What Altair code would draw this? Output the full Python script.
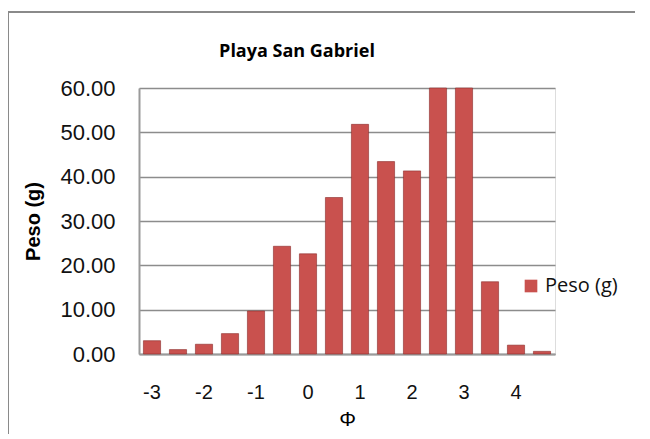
import altair as alt
import pandas as pd

phi = [-3, -2.5, -2, -1.5, -1, -0.5, 0, 0.5, 1, 1.5, 2, 2.5, 3, 3.5, 4, 4.5]
peso = [3.0, 1.0, 2.2, 4.6, 9.7, 24.3, 22.6, 35.3, 51.8, 43.4, 41.3, 60.0, 60.0, 16.3, 2.0, 0.6]
y_ticks = [0, 10, 20, 30, 40, 50, 60]
chart_title = "Playa San Gabriel"

df = pd.DataFrame({"phi": phi, "peso": peso, "serie": ["Peso (g)"] * len(phi)})
title_df = pd.DataFrame({"t": [chart_title]})

FONT = "Open Sans"

bars = alt.Chart(df).mark_bar(stroke="#8B2E2C", strokeWidth=0.6).encode(
    x=alt.X(
        "phi:O",
        sort=phi,
        scale=alt.Scale(paddingInner=0.34, paddingOuter=0.17),
        axis=alt.Axis(
            title="Φ",
            labelExpr="datum.value % 1 == 0 ? datum.label : ''",
            labelAngle=0,
            ticks=False,
            domain=True,
            domainColor="#9a9a9a",
            domainWidth=2,
            labelPadding=28,
            labelFontSize=20,
            labelColor="#111111",
            titleFontSize=21,
            titleFontWeight="normal",
            titlePadding=6,
            titleColor="#000000",
        ),
    ),
    y=alt.Y(
        "peso:Q",
        scale=alt.Scale(domain=[0, 60], nice=False),
        axis=alt.Axis(
            title="Peso (g)",
            values=y_ticks,
            format=".2f",
            ticks=False,
            domainColor="#9a9a9a",
            domainWidth=2,
            gridColor="#8c8c8c",
            gridWidth=1.6,
            labelPadding=24,
            labelFontSize=22,
            labelColor="#111111",
            titleFontSize=20,
            titleFontWeight="bold",
            titlePadding=16,
            titleColor="#000000",
        ),
    ),
    color=alt.Color(
        "serie:N",
        scale=alt.Scale(range=["#C9514E"]),
        legend=alt.Legend(
            title=None,
            orient="none",
            legendX=382,
            legendY=188,
            symbolType="square",
            symbolSize=160,
            symbolStrokeWidth=0,
            labelFontSize=20,
            labelColor="#111111",
            labelFont=FONT,
        ),
    ),
)

title_mark = alt.Chart(title_df).mark_text(
    font=FONT, fontSize=18, fontWeight="bold", color="#000000", align="center", baseline="middle"
).encode(text="t:N", x=alt.value(158), y=alt.value(-36))

frame_top = alt.Chart(df).mark_rule(color="#8a8a8a", strokeWidth=2).encode(
    x=alt.value(-131), x2=alt.value(520), y=alt.value(-76)
)
frame_left = alt.Chart(df).mark_rule(color="#8a8a8a", strokeWidth=2).encode(
    x=alt.value(-131), y=alt.value(-76), y2=alt.value(360)
)

chart = (
    alt.layer(bars, title_mark, frame_top, frame_left)
    .properties(
        width=416,
        height=266,
        autosize=alt.AutoSizeParams(type="none"),
        padding={"left": 131, "top": 80, "right": 80, "bottom": 80},
    )
    .configure_view(stroke=None)
    .configure_axis(labelFont=FONT, titleFont=FONT)
    .configure(background="white")
)

chart.save("out.html", embed_options={"renderer": "svg", "actions": False})
